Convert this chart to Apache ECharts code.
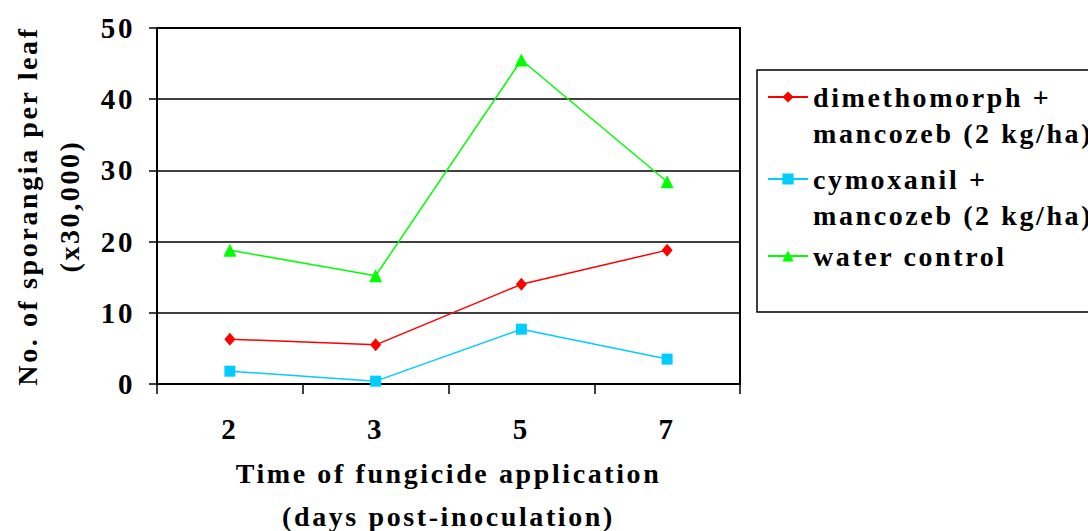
<!DOCTYPE html>
<html>
<head>
<meta charset="utf-8">
<script src="https://cdn.jsdelivr.net/npm/echarts@6/dist/echarts.min.js"></script>
<style>
  html, body { margin: 0; padding: 0; background: #fff; }
  #chart { width: 1088px; height: 531px; }
  #chart text { letter-spacing: 2.6px; }
</style>
</head>
<body>
<div id="chart"></div>
<script>
// days post-inoculation
var days = ['2', '3', '5', '7'];
var dimethomorph = [6.3, 5.5, 14.0, 18.8];
var cymoxanil = [1.8, 0.4, 7.7, 3.5];
var waterControl = [18.8, 15.2, 45.5, 28.4];
var seriesNames = ['dimethomorph +\nmancozeb (2 kg/ha)', 'cymoxanil +\nmancozeb (2 kg/ha)', 'water control'];

var serif = 'Liberation Serif';

var chart = echarts.init(document.getElementById('chart'), null, { renderer: 'svg' });

function legendAt(name, top, twoLines) {
  return {
    data: [name],
    left: 762,
    top: top,
    orient: 'vertical',
    itemWidth: 40,
    itemHeight: 14,
    selectedMode: false,
    // blank first line keeps the symbol level with the first text line
    formatter: function (n) { return twoLines ? ' \n' + n : n; },
    textStyle: {
      fontFamily: serif,
      fontWeight: 'bold',
      fontSize: 28,
      color: '#000',
      lineHeight: 36
    }
  };
}

chart.setOption({
  animation: false,
  color: ['#FF0000', '#00CCFF', '#00FF00'],
  grid: {
    left: 157, top: 28, right: 348, bottom: 147,
    outerBoundsMode: 'none',
    show: true, borderColor: '#000', borderWidth: 2
  },
  graphic: [{
    type: 'rect', z: -1,
    shape: { x: 757, y: 70, width: 345, height: 242 },
    style: { fill: '#fff', stroke: '#000', lineWidth: 1.5 }
  }],
  legend: [
    legendAt(seriesNames[0], 38, true),
    legendAt(seriesNames[1], 120, true),
    legendAt(seriesNames[2], 233, false)
  ],
  xAxis: {
    type: 'category',
    data: days,
    boundaryGap: true,
    axisLine: { lineStyle: { color: '#000', width: 2 } },
    axisTick: { show: true, alignWithLabel: false, length: 10, lineStyle: { color: '#000', width: 1.5 } },
    axisLabel: { margin: 30, fontFamily: serif, fontWeight: 'bold', fontSize: 29, color: '#000' },
    name: 'Time of fungicide application\n(days post-inoculation)',
    nameLocation: 'middle',
    nameGap: 68,
    nameTextStyle: { fontFamily: serif, fontWeight: 'bold', fontSize: 28, color: '#000', lineHeight: 43 }
  },
  yAxis: {
    type: 'value',
    min: 0, max: 50, interval: 10,
    axisLine: { show: true, lineStyle: { color: '#000', width: 2 } },
    axisTick: { show: true, length: 8, lineStyle: { color: '#000', width: 1.5 } },
    splitLine: { lineStyle: { color: '#000', width: 1.5 } },
    axisLabel: { margin: 22, fontFamily: serif, fontWeight: 'bold', fontSize: 29, color: '#000' },
    name: 'No. of sporangia per leaf\n(x30,000)',
    nameLocation: 'middle',
    nameGap: 67,
    nameTextStyle: { fontFamily: serif, fontWeight: 'bold', fontSize: 28, color: '#000', lineHeight: 42 }
  },
  series: [
    {
      name: seriesNames[0], type: 'line', data: dimethomorph,
      symbol: 'diamond', symbolSize: [11, 13],
      lineStyle: { width: 1.5 }
    },
    {
      name: seriesNames[1], type: 'line', data: cymoxanil,
      symbol: 'rect', symbolSize: 11,
      lineStyle: { width: 1.5 }
    },
    {
      name: seriesNames[2], type: 'line', data: waterControl,
      symbol: 'triangle', symbolSize: 13,
      lineStyle: { width: 1.5 }
    }
  ]
});
</script>
</body>
</html>
